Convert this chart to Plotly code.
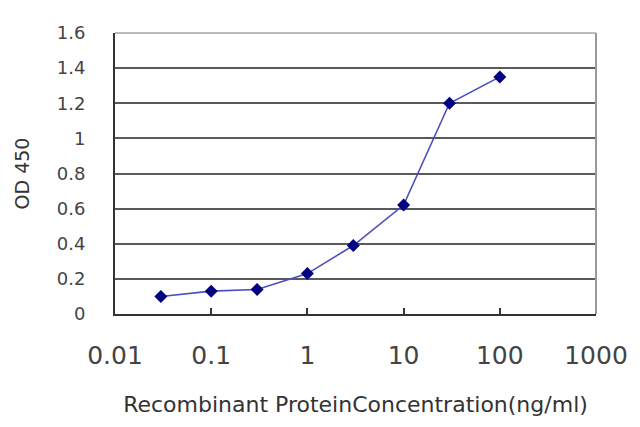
import plotly.graph_objects as go

concentration = [0.03, 0.1, 0.3, 1, 3, 10, 30, 100]
od450 = [0.10, 0.13, 0.14, 0.23, 0.39, 0.62, 1.20, 1.35]
x_tickvals = [0.01, 0.1, 1, 10, 100, 1000]
x_ticktext = ["0.01", "0.1", "1", "10", "100", "1000"]
y_tickvals = [0, 0.2, 0.4, 0.6, 0.8, 1.0, 1.2, 1.4, 1.6]
y_ticktext = ["0", "0.2", "0.4", "0.6", "0.8", "1", "1.2", "1.4", "1.6"]

fig = go.Figure()
fig.add_trace(go.Scatter(
    x=concentration, y=od450, mode="lines+markers",
    line=dict(color="#4d4dc0", width=1.6),
    marker=dict(symbol="diamond", size=10, color="#000080"),
    showlegend=False,
))

font_family = "DejaVu Sans, Liberation Sans, Arial, sans-serif"
fig.update_layout(
    width=640, height=427,
    margin=dict(l=115, r=44, t=33, b=113),
    paper_bgcolor="white", plot_bgcolor="white",
    font=dict(family=font_family, color="#333333"),
    shapes=[
        dict(type="line", xref="paper", yref="paper", x0=0, x1=1, y0=1, y1=1,
             line=dict(color="#bbbbbb", width=2)),
        dict(type="line", xref="paper", yref="paper", x0=1, x1=1, y0=0, y1=1,
             line=dict(color="#999999", width=2)),
    ],
)
fig.update_xaxes(
    type="log", range=[-2, 3],
    tickvals=x_tickvals, ticktext=x_ticktext,
    ticks="inside", ticklen=6, tickwidth=2, tickcolor="#333333",
    showline=True, linecolor="#333333", linewidth=2,
    showgrid=False, zeroline=False,
    tickfont=dict(size=25, color="#444444"),
    ticklabelstandoff=18,
    title=dict(text="Recombinant ProteinConcentration(ng/ml)",
               font=dict(size=22, color="#333333"), standoff=28),
)
fig.update_yaxes(
    range=[0, 1.6],
    tickvals=y_tickvals, ticktext=y_ticktext,
    ticks="", showline=True, linecolor="#333333", linewidth=2,
    showgrid=True, gridcolor="#5a5a5a", gridwidth=2, zeroline=False,
    tickfont=dict(size=18, color="#444444"),
    ticklabelstandoff=24,
    title=dict(text="OD 450", font=dict(size=19, color="#333333"), standoff=22),
)
fig.write_html("out.html", config={"displayModeBar": False},
               post_script="document.body.style.margin='0';")
